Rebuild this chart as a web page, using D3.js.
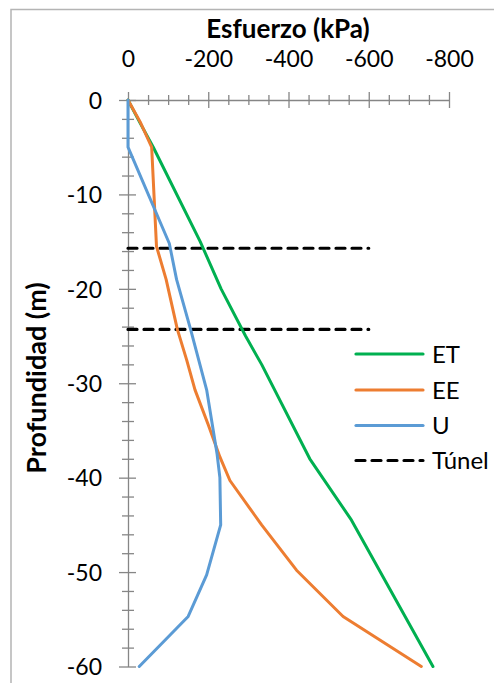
<!DOCTYPE html>
<html>
<head>
<meta charset="utf-8">
<script src="https://cdn.jsdelivr.net/npm/d3@7"></script>
<style>
  body { margin: 0; background: #fff; }
  text { font-family: Lato, "Open Sans", sans-serif; fill: #000; }
</style>
</head>
<body>
<div id="chart"></div>
<script>
// depth (m) and stress (kPa) for each curve
var etDepth  = [0, -2.5, -5, -15, -20, -25, -28, -38, -44.5, -60];
var etStress = [0, -31, -63, -180, -232, -293, -333, -453, -557, -760];

var eeDepth  = [0, -2.3, -5, -15.5, -19, -24.3, -27.5, -30.7, -34.4, -37.8, -40.3, -45, -49.8, -54.7, -60];
var eeStress = [0, -30, -59, -71, -95, -123, -146, -167, -200, -229, -254, -333, -420, -536, -731];

var uDepth  = [0, -5, -15.2, -19, -24.3, -30.7, -37.5, -40, -45, -50.3, -54.7, -60];
var uStress = [0, 0, -103, -121, -156, -196, -222, -229, -231, -196, -150, -28];

var tunnelDepth = [-15.7, -24.3];
var tunnelStress = [0, -600];

var xTicks = [0, -200, -400, -600, -800];
var yTicks = [0, -10, -20, -30, -40, -50, -60];
var xMinor = d3.range(0, -801, -50);
var yMinor = d3.range(0, -61, -2);

var seriesNames = ['ET', 'EE', 'U', 'Túnel'];
var seriesColors = ['#00b050', '#ed7d31', '#5b9bd5', '#000'];

var width = 494, height = 683;
var svg = d3.select('#chart').append('svg')
    .attr('width', width)
    .attr('height', height);

// outer chart frame (right and bottom edges fall outside the picture)
svg.append('rect')
    .attr('x', 11).attr('y', 9.5)
    .attr('width', 600).attr('height', 800)
    .attr('fill', 'none')
    .attr('stroke', '#b4b4b4')
    .attr('stroke-width', 1.5);

var x = d3.scaleLinear().domain([0, -800]).range([128, 449]);
var y = d3.scaleLinear().domain([0, -60]).range([100, 666.5]);

var axisColor = '#868686';

// top axis
var gx = svg.append('g')
    .attr('transform', 'translate(0,100)')
    .call(d3.axisTop(x)
        .tickValues(xMinor)
        .tickSize(0)
        .tickSizeOuter(0)
        .tickPadding(33.5)
        .tickFormat(d => xTicks.includes(d) ? String(d) : ''));
gx.select('.domain').attr('stroke', axisColor).attr('stroke-width', 1.3);
gx.selectAll('.tick line')
    .attr('stroke', axisColor).attr('stroke-width', 1.3)
    .attr('y1', d => xTicks.includes(d) ? -8 : -5)
    .attr('y2', d => xTicks.includes(d) ? 8 : 5);
gx.selectAll('.tick text')
    .attr('font-size', 23)
    .attr('font-family', 'Lato');

// left axis
var gy = svg.append('g')
    .attr('transform', 'translate(128,0)')
    .call(d3.axisLeft(y)
        .tickValues(yMinor)
        .tickSize(0)
        .tickSizeOuter(0)
        .tickPadding(26)
        .tickFormat(d => yTicks.includes(d) ? String(d) : ''));
gy.select('.domain').attr('stroke', axisColor).attr('stroke-width', 1.3);
gy.selectAll('.tick line')
    .attr('stroke', axisColor).attr('stroke-width', 1.3)
    .attr('x1', d => yTicks.includes(d) ? -9 : -6)
    .attr('x2', d => yTicks.includes(d) ? 8 : 6);
gy.selectAll('.tick text')
    .attr('font-size', 23)
    .attr('dy', '0.36em')
    .attr('font-family', 'Lato');

// titles
svg.append('text')
    .attr('x', 288).attr('y', 38)
    .attr('text-anchor', 'middle')
    .attr('font-size', 26).attr('font-weight', 'bold')
    .text('Esfuerzo (kPa)');
svg.append('text')
    .attr('transform', 'translate(46,378) rotate(-90)')
    .attr('text-anchor', 'middle')
    .attr('font-size', 27).attr('font-weight', 'bold')
    .text('Profundidad (m)');

var line = d3.line()
    .x(d => x(d[1]))
    .y(d => y(d[0]));

function pairs(depth, stress) {
    return depth.map((dv, i) => [dv, stress[i]]);
}

// tunnel lines
tunnelDepth.forEach(function(td) {
    svg.append('path')
        .datum(tunnelStress.map(s => [td, s]))
        .attr('d', line)
        .attr('fill', 'none')
        .attr('stroke', '#000')
        .attr('stroke-width', 3.2)
        .attr('stroke-dasharray', '9,7')
        .attr('stroke-linecap', 'round');
});

var curves = [
    pairs(etDepth, etStress),
    pairs(eeDepth, eeStress),
    pairs(uDepth, uStress)
];
curves.forEach(function(c, i) {
    svg.append('path')
        .datum(c)
        .attr('d', line)
        .attr('fill', 'none')
        .attr('stroke', seriesColors[i])
        .attr('stroke-width', 3)
        .attr('stroke-linejoin', 'round')
        .attr('stroke-linecap', 'round');
});

// legend
var legY = [354, 390, 425.5, 460.5];
var leg = svg.selectAll('.leg')
    .data(seriesNames)
    .enter().append('g')
    .attr('transform', (d, i) => 'translate(0,' + legY[i] + ')');
leg.append('line')
    .attr('x1', 356).attr('x2', 423)
    .attr('stroke', (d, i) => seriesColors[i])
    .attr('stroke-width', 3.2)
    .attr('stroke-linecap', 'round')
    .attr('stroke-dasharray', (d, i) => i === 3 ? '9,7' : null);
leg.append('text')
    .attr('x', 432).attr('dy', '0.36em')
    .attr('font-size', 24)
    .text(d => d);
</script>
</body>
</html>
